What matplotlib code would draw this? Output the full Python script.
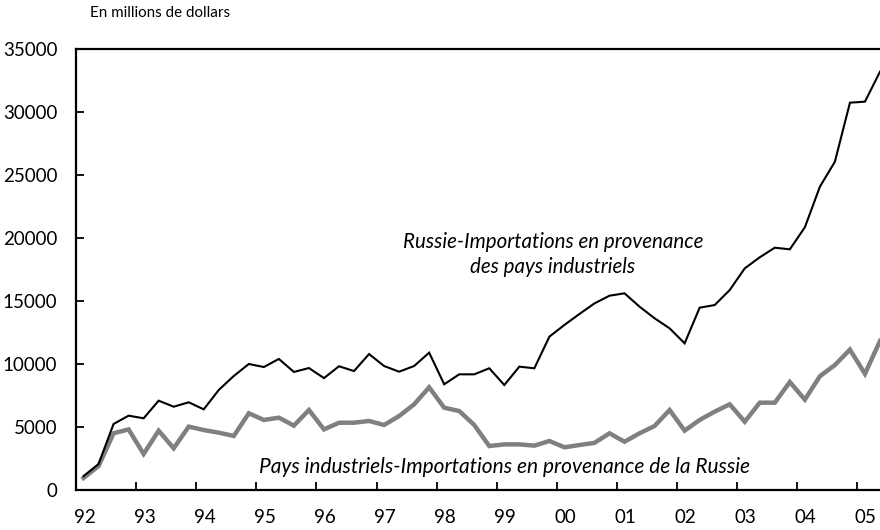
import numpy as np
import matplotlib
matplotlib.use("Agg")
import matplotlib.pyplot as plt

# quarterly data, 1992Q1 .. 2005Q2 (millions of dollars)
russia_imports = [
    1100, 2060, 5240, 5900, 5690, 7090, 6610, 6960, 6400, 7940,
    9050, 10000, 9760, 10400, 9370, 9680, 8880, 9820, 9440, 10790,
    9840, 9390, 9840, 10900, 8390, 9180, 9180, 9660, 8330, 9790,
    9660, 12170, 13100, 13970, 14810, 15420, 15610, 14550, 13630, 12830,
    11640, 14470, 14680, 15870, 17590, 18470, 19230, 19100, 20850, 24070,
    26060, 30740, 30820, 33200,
]
industrial_imports = [
    950, 1900, 4500, 4810, 2860, 4710, 3310, 5030, 4760, 4550,
    4290, 6090, 5560, 5740, 5110, 6350, 4810, 5340, 5340, 5480,
    5160, 5870, 6800, 8150, 6530, 6270, 5160, 3490, 3620, 3620,
    3520, 3890, 3390, 3570, 3740, 4500, 3830, 4500, 5080, 6350,
    4710, 5560, 6220, 6800, 5420, 6930, 6930, 8570, 7170, 9030,
    9920, 11140, 9220, 11830,
]
year_labels = ["92", "93", "94", "95", "96", "97", "98", "99",
               "00", "01", "02", "03", "04", "05"]

plt.rcParams["font.family"] = ["Lato", "DejaVu Sans"]

quarters = 1992 + 0.125 + 0.25 * np.arange(len(russia_imports))
years = 1992 + np.arange(len(year_labels))

fig = plt.figure(figsize=(8.8, 5.3), dpi=100)
ax = fig.add_axes([76 / 880, 40 / 530, 1 - 76 / 880, 441 / 530])

ax.plot(quarters, industrial_imports, color="#808080", lw=3.2,
        solid_joinstyle="miter")
ax.plot(quarters, russia_imports, color="black", lw=1.5,
        solid_joinstyle="miter")

ax.set_xlim(1992, 2005.375)
ax.set_ylim(0, 35000)

ax.set_yticks(np.arange(0, 35001, 5000))
ax.tick_params(axis="y", direction="in", length=6, width=1.3,
               labelsize=13.5, pad=13.5)
ax.set_xticks(years[1:])
ax.set_xticklabels([])
ax.tick_params(axis="x", which="major", direction="in", length=6, width=1.3)
ax.set_xticks(years + 0.14, minor=True)
ax.set_xticklabels(year_labels, minor=True)
ax.tick_params(axis="x", which="minor", length=0, labelsize=13.5, pad=14)

for s in ["left", "bottom", "top"]:
    ax.spines[s].set_linewidth(1.6)
ax.spines["right"].set_visible(False)

fig.text(90 / 880, 1 - 13 / 530, "En millions de dollars", fontsize=10.9,
         va="center", ha="left")

ax.text(1999.93, 18700, "Russie-Importations en provenance\ndes pays industriels",
        fontsize=14.8, style="italic", ha="center", va="center",
        linespacing=1.3)
ax.text(1999.13, 1850, "Pays industriels-Importations en provenance de la Russie",
        fontsize=15, style="italic", ha="center", va="center")

fig.savefig("out.png", dpi=100)
